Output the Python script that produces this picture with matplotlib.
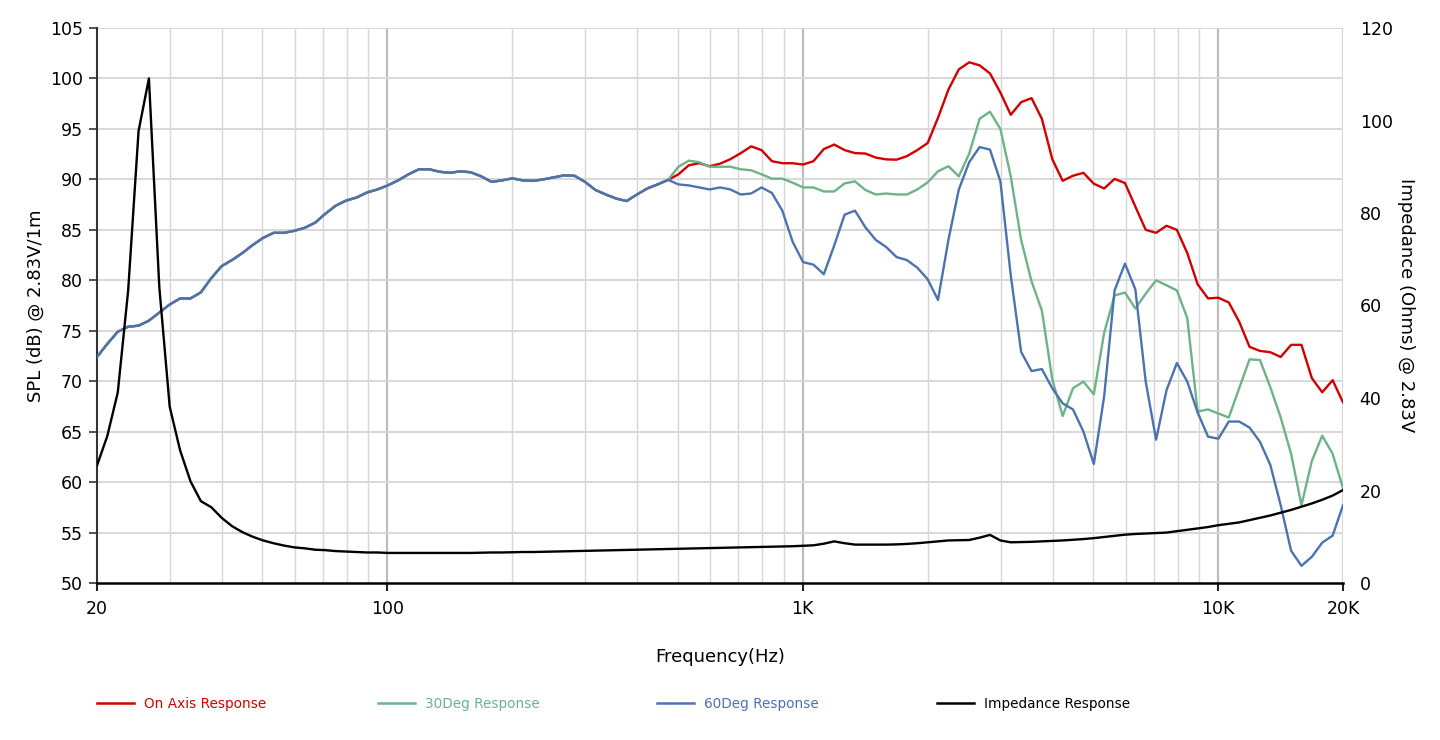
import matplotlib
matplotlib.use("Agg")
import matplotlib.pyplot as plt
from matplotlib.ticker import FixedLocator, FixedFormatter, NullLocator
from matplotlib.lines import Line2D

# frequency points (Hz), 1/40 decade steps
freq = [20, 21.18, 22.44, 23.77, 25.18, 26.67, 28.25, 29.93, 31.70, 33.58,
        35.57, 37.67, 39.91, 42.27, 44.77, 47.43, 50.24, 53.21, 56.37, 59.71,
        63.25, 66.99, 70.96, 75.17, 79.62, 84.34, 89.34, 94.64, 100.24, 106.18,
        112.47, 119.14, 126.20, 133.68, 141.60, 149.99, 158.87, 168.29, 178.26, 188.82,
        200.0, 211.8, 224.4, 237.7, 251.8, 266.7, 282.5, 299.3, 317.0, 335.8,
        355.7, 376.7, 399.1, 422.7, 447.7, 474.3, 502.4, 532.1, 563.7, 597.1,
        632.5, 669.9, 709.6, 751.7, 796.2, 843.4, 893.4, 946.4, 1002.4, 1061.8,
        1124.7, 1191.4, 1262.0, 1336.8, 1416.0, 1499.9, 1588.7, 1682.9, 1782.6, 1888.2,
        2000, 2118, 2244, 2377, 2518, 2667, 2825, 2993, 3170, 3358,
        3557, 3767, 3991, 4227, 4477, 4743, 5024, 5321, 5637, 5971,
        6325, 6699, 7096, 7517, 7962, 8434, 8934, 9464, 10024, 10618,
        11247, 11914, 12620, 13368, 14160, 14999, 15887, 16829, 17826, 18882,
        20000]

# below ~500 Hz all three SPL curves overlap
spl_common = [72.4, 73.7, 74.9, 75.4, 75.5, 76.0, 76.8, 77.6, 78.2, 78.2,
              78.8, 80.2, 81.4, 82.0, 82.7, 83.5, 84.2, 84.7, 84.7, 84.9,
              85.2, 85.7, 86.6, 87.4, 87.9, 88.2, 88.7, 89.0, 89.4, 89.9,
              90.5, 91.0, 91.0, 90.75, 90.65, 90.8, 90.7, 90.3, 89.75, 89.9,
              90.1, 89.9, 89.85, 90.0, 90.2, 90.4, 90.35, 89.75, 88.95, 88.5,
              88.1, 87.85, 88.5, 89.1, 89.5, 89.95]

on_axis_hi = [90.5, 91.4, 91.6, 91.3, 91.55, 92.0, 92.6, 93.27, 92.9, 91.8,
              91.6, 91.6, 91.47, 91.8, 93.0, 93.45, 92.9, 92.6, 92.56, 92.16,
              91.98, 91.95, 92.3, 92.9, 93.6, 96.1, 98.9, 100.9, 101.6, 101.3,
              100.5, 98.6, 96.4, 97.65, 98.05, 96.0, 92.0, 89.86, 90.36, 90.65,
              89.57, 89.1, 90.04, 89.64, 87.3, 85.0, 84.7, 85.4, 85.0, 82.7,
              79.6, 78.2, 78.27, 77.8, 75.9, 73.4, 73.0, 72.87, 72.4, 73.6,
              73.6, 70.3, 68.9, 70.1, 67.9]

deg30_hi = [91.25, 91.85, 91.7, 91.25, 91.25, 91.25, 91.0, 90.9, 90.5, 90.07,
            90.07, 89.67, 89.2, 89.2, 88.8, 88.8, 89.6, 89.8, 88.95, 88.5,
            88.6, 88.5, 88.5, 89.0, 89.7, 90.8, 91.3, 90.3, 92.55, 96.0,
            96.7, 95.0, 90.3, 84.0, 79.9, 77.0, 70.17, 66.55, 69.3, 69.96,
            68.7, 74.8, 78.5, 78.78, 77.2, 78.67, 80.0, 79.5, 79.0, 76.26,
            67.0, 67.2, 66.8, 66.4, 69.3, 72.16, 72.1, 69.4, 66.4, 62.8,
            57.7, 62.1, 64.6, 62.8, 59.4]

deg60_hi = [89.5, 89.4, 89.2, 89.0, 89.2, 89.0, 88.5, 88.6, 89.2, 88.65,
            86.9, 83.8, 81.8, 81.55, 80.6, 83.45, 86.5, 86.9, 85.25, 84.0,
            83.3, 82.3, 82.0, 81.25, 80.1, 78.05, 84.0, 89.0, 91.7, 93.2,
            92.95, 89.8, 80.5, 72.9, 71.0, 71.2, 69.3, 67.8, 67.2, 65.0,
            61.8, 68.5, 79.0, 81.65, 79.1, 69.96, 64.2, 69.1, 71.8, 69.96,
            66.9, 64.5, 64.3, 66.0, 66.0, 65.4, 64.0, 61.7, 57.7, 53.2,
            51.7, 52.6, 54.0, 54.7, 57.7]

impedance = [25.4, 31.8, 41.2, 63.2, 97.7, 109.1, 64.0, 38.1, 28.7, 22.0,
             17.7, 16.4, 14.1, 12.3, 11.0, 10.0, 9.2, 8.6, 8.1, 7.7,
             7.5, 7.2, 7.1, 6.9, 6.8, 6.7, 6.6, 6.6, 6.5, 6.5,
             6.5, 6.5, 6.5, 6.5, 6.5, 6.5, 6.5, 6.55, 6.6, 6.6,
             6.65, 6.7, 6.7, 6.75, 6.8, 6.85, 6.9, 6.95, 7.0, 7.05,
             7.1, 7.15, 7.2, 7.25, 7.3, 7.35, 7.4, 7.45, 7.5, 7.55,
             7.6, 7.65, 7.7, 7.75, 7.8, 7.85, 7.9, 7.95, 8.05, 8.15,
             8.5, 9.0, 8.6, 8.3, 8.3, 8.3, 8.3, 8.35, 8.45, 8.6,
             8.8, 9.0, 9.2, 9.25, 9.3, 9.8, 10.4, 9.2, 8.8, 8.85,
             8.9, 9.0, 9.1, 9.2, 9.35, 9.5, 9.7, 9.95, 10.2, 10.45,
             10.6, 10.7, 10.8, 10.9, 11.2, 11.5, 11.8, 12.1, 12.5, 12.8,
             13.1, 13.6, 14.1, 14.6, 15.2, 15.8, 16.5, 17.2, 18.0, 18.9,
             20.1]

on_axis = spl_common + on_axis_hi
deg30 = spl_common + deg30_hi
deg60 = spl_common + deg60_hi

x_ticks = [20, 100, 1000, 10000, 20000]
x_ticklabels = ["20", "100", "1K", "10K", "20K"]

c_red = "#d40000"
c_green = "#6db388"
c_blue = "#4c72b0"
c_black = "#000000"

plt.rcParams['font.family'] = ['DejaVu Sans']

fig = plt.figure(figsize=(14.4, 7.4), dpi=100)
ax = fig.add_axes([97 / 1440, 1 - 583 / 740, 1246 / 1440, 555 / 740])
ax.set_xscale("log")
ax2 = ax.twinx()

ax.plot(freq, on_axis, color=c_red, lw=1.7, zorder=3)
ax.plot(freq, deg30, color=c_green, lw=1.7, zorder=3)
ax.plot(freq, deg60, color=c_blue, lw=1.7, zorder=4)
ax2.plot(freq, impedance, color=c_black, lw=1.7, zorder=5)

ax.set_xlim(20, 20000)
ax.set_ylim(50, 105)
ax.set_yticks(range(50, 106, 5))
ax2.set_ylim(0, 120)
ax2.set_yticks(range(0, 121, 20))

# vertical grid: minor lines light, decade lines darker
minor_x = [f * d for d in (10, 100, 1000, 10000) for f in range(2, 10) if 20 < f * d < 20000]
for xv in minor_x:
    ax.axvline(xv, color="#d6d6d6", lw=1.0, zorder=1)
for xv in (100, 1000, 10000):
    ax.axvline(xv, color="#bdbdbd", lw=1.6, zorder=1)
ax.axvline(20000, color="#d6d6d6", lw=1.6, zorder=1)
for yv in range(55, 106, 5):
    ax.axhline(yv, color="#d6d6d6", lw=1.3, zorder=1)

ax.xaxis.set_major_locator(FixedLocator(x_ticks))
ax.xaxis.set_major_formatter(FixedFormatter(x_ticklabels))
ax.xaxis.set_minor_locator(NullLocator())
ax.tick_params(axis="x", length=6, width=1.5, direction="out", labelsize=12.5, pad=6, color="#222222")
ax.tick_params(axis="y", length=6, width=1.2, direction="out", labelsize=12.5, pad=4, color="#333333")
ax2.tick_params(axis="y", length=0, labelsize=12.5, pad=12)

for side in ("top", "right"):
    ax.spines[side].set_visible(False)
for side in ("top", "right", "left", "bottom"):
    ax2.spines[side].set_visible(False)
ax.spines["left"].set_color("#333333")
ax.spines["left"].set_linewidth(1.5)
ax.spines["bottom"].set_color("#000000")
ax.spines["bottom"].set_linewidth(1.8)

ax.set_xlabel("Frequency(Hz)", fontsize=13, labelpad=22)
ax.set_ylabel("SPL (dB) @ 2.83V/1m", fontsize=13, labelpad=4)
ax2.set_ylabel("Impedance (Ohms) @ 2.83V", fontsize=13, rotation=-90, labelpad=16)

# legend items spaced along the bottom
legend_items = [("On Axis Response", c_red, 97),
                ("30Deg Response", c_green, 378),
                ("60Deg Response", c_blue, 657),
                ("Impedance Response", c_black, 937)]
for label, col, xpix in legend_items:
    h = Line2D([], [], color=col, lw=1.8)
    lg = fig.legend([h], [label], loc="center left",
                    bbox_to_anchor=(xpix / 1440, 1 - 704 / 740),
                    frameon=False, fontsize=9.8, handlelength=2.7,
                    handletextpad=0.75, borderpad=0, borderaxespad=0)
    for t in lg.get_texts():
        t.set_color(col)

fig.savefig("out.png", dpi=100)
